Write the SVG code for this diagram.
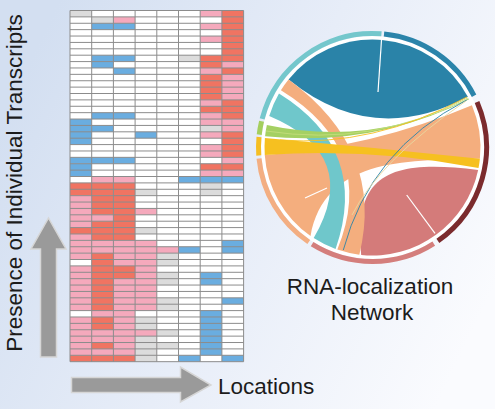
<svg xmlns="http://www.w3.org/2000/svg" width="495" height="409" viewBox="0 0 495 409">
<defs>
<linearGradient id="bg" x1="0" y1="0.3" x2="1" y2="0.7">
<stop offset="0" stop-color="#d3dff1"/>
<stop offset="0.5" stop-color="#e7edf8"/>
<stop offset="1" stop-color="#fafbfe"/>
</linearGradient>
<style>
.g{fill:#dcdcdc}.p{fill:#f5a9bc}.r{fill:#f07462}.b{fill:#6aade0}.w{fill:#ffffff}
.grid{fill:none;stroke:#8c8c8c;stroke-width:1;vector-effect:non-scaling-stroke}
.arrow{fill:#9a9a9a;stroke:#d6d6d6;stroke-width:1.5}
.lbl{font-family:"Liberation Sans",Arial,sans-serif;font-size:22.5px;fill:#1c1c1c}
.ring{fill:none;stroke-width:5}
.gap{fill:none;stroke:#ffffff;stroke-width:1.2}
.thin{fill:none;stroke-width:0.9}
</style>
</defs>
<rect width="495" height="409" fill="url(#bg)"/>

<g id="heatmap" transform="translate(70 10.5) scale(21.7 6.385)">
<rect x="0" y="0" width="8" height="55" class="w"/>
<rect class="g" x="0" y="0" width="1" height="1"/>
<rect class="g" x="1" y="1" width="1" height="1"/>
<rect class="p" x="2" y="1" width="1" height="1"/>
<rect class="b" x="1" y="2" width="2" height="1"/>
<rect class="b" x="1" y="7" width="2" height="1"/>
<rect class="b" x="1" y="8" width="1" height="1"/>
<rect class="b" x="2" y="9" width="1" height="1"/>
<rect class="b" x="1" y="16" width="2" height="1"/>
<rect class="b" x="0" y="17" width="1" height="4"/>
<rect class="b" x="1" y="18" width="1" height="1"/>
<rect class="b" x="3" y="19" width="1" height="1"/>
<rect class="b" x="0" y="23" width="3" height="1"/>
<rect class="b" x="0" y="24" width="1" height="2"/>
<rect class="p" x="1" y="26" width="2" height="1"/>
<rect class="g" x="5" y="7" width="1" height="1"/>
<rect class="b" x="5" y="26" width="3" height="1"/>
<rect class="p" x="6" y="0" width="1" height="1"/>
<rect class="p" x="6" y="2" width="1" height="1"/>
<rect class="p" x="6" y="4" width="1" height="1"/>
<rect class="r" x="6" y="7" width="1" height="2"/>
<rect class="p" x="6" y="9" width="1" height="1"/>
<rect class="r" x="6" y="10" width="1" height="4"/>
<rect class="p" x="6" y="14" width="1" height="1"/>
<rect class="r" x="6" y="15" width="1" height="1"/>
<rect class="p" x="6" y="16" width="1" height="2"/>
<rect class="g" x="6" y="18" width="1" height="1"/>
<rect class="p" x="6" y="19" width="1" height="1"/>
<rect class="p" x="6" y="21" width="1" height="2"/>
<rect class="r" x="6" y="24" width="1" height="1"/>
<rect class="p" x="6" y="25" width="1" height="1"/>
<rect class="r" x="7" y="0" width="1" height="8"/>
<rect class="p" x="7" y="8" width="1" height="1"/>
<rect class="r" x="7" y="9" width="1" height="1"/>
<rect class="p" x="7" y="10" width="1" height="4"/>
<rect class="r" x="7" y="14" width="1" height="3"/>
<rect class="p" x="7" y="17" width="1" height="2"/>
<rect class="r" x="7" y="19" width="1" height="4"/>
<rect class="p" x="7" y="23" width="1" height="1"/>
<rect class="r" x="7" y="24" width="1" height="1"/>
<rect class="p" x="7" y="25" width="1" height="1"/>
<rect class="r" x="0" y="27" width="2" height="2"/>
<rect class="r" x="2" y="27" width="1" height="9"/>
<rect class="r" x="1" y="29" width="1" height="3"/>
<rect class="p" x="0" y="29" width="1" height="5"/>
<rect class="p" x="1" y="32" width="1" height="1"/>
<rect class="r" x="1" y="33" width="1" height="3"/>
<rect class="r" x="0" y="34" width="1" height="1"/>
<rect class="p" x="0" y="35" width="1" height="1"/>
<rect class="p" x="3" y="31" width="1" height="1"/>
<rect class="g" x="3" y="28" width="1" height="1"/>
<rect class="g" x="3" y="34" width="1" height="1"/>
<rect class="g" x="6" y="27" width="1" height="2"/>
<rect class="p" x="0" y="36" width="4" height="2"/>
<rect class="p" x="4" y="37" width="1" height="1"/>
<rect class="b" x="5" y="37" width="1" height="1"/>
<rect class="b" x="7" y="36" width="1" height="2"/>
<rect class="p" x="0" y="38" width="4" height="16"/>
<rect class="w" x="0" y="39" width="1" height="1"/>
<rect class="w" x="0" y="47" width="1" height="1"/>
<rect class="r" x="1" y="38" width="1" height="9"/>
<rect class="r" x="1" y="48" width="1" height="2"/>
<rect class="r" x="1" y="52" width="1" height="1"/>
<rect class="r" x="2" y="40" width="1" height="2"/>
<rect class="w" x="3" y="47" width="1" height="1"/>
<rect class="g" x="3" y="48" width="1" height="2"/>
<rect class="g" x="3" y="51" width="1" height="3"/>
<rect class="g" x="4" y="38" width="1" height="2"/>
<rect class="g" x="4" y="41" width="1" height="2"/>
<rect class="g" x="4" y="45" width="1" height="2"/>
<rect class="g" x="4" y="50" width="1" height="1"/>
<rect class="g" x="4" y="52" width="1" height="1"/>
<rect class="b" x="6" y="41" width="1" height="2"/>
<rect class="b" x="6" y="47" width="1" height="7"/>
<rect class="b" x="7" y="45" width="1" height="1"/>
<rect class="r" x="0" y="54" width="3" height="1"/>
<rect class="g" x="3" y="54" width="1" height="1"/>
<rect class="b" x="5" y="54" width="1" height="1"/>
<rect class="b" x="7" y="54" width="1" height="1"/>
<path class="grid" d="M0 0H8M0 1H8M0 2H8M0 3H8M0 4H8M0 5H8M0 6H8M0 7H8M0 8H8M0 9H8M0 10H8M0 11H8M0 12H8M0 13H8M0 14H8M0 15H8M0 16H8M0 17H8M0 18H8M0 19H8M0 20H8M0 21H8M0 22H8M0 23H8M0 24H8M0 25H8M0 26H8M0 27H8M0 28H8M0 29H8M0 30H8M0 31H8M0 32H8M0 33H8M0 34H8M0 35H8M0 36H8M0 37H8M0 38H8M0 39H8M0 40H8M0 41H8M0 42H8M0 43H8M0 44H8M0 45H8M0 46H8M0 47H8M0 48H8M0 49H8M0 50H8M0 51H8M0 52H8M0 53H8M0 54H8M0 55H8M0 0V55M1 0V55M2 0V55M3 0V55M4 0V55M5 0V55M6 0V55M7 0V55M8 0V55"/>
</g>

<g id="arrow-up">
<polygon class="arrow" points="48.5,218 66,249 56.5,249 56.5,357 40.5,357 40.5,249 31,249"/>
</g>
<g id="arrow-right">
<polygon class="arrow" points="71.5,377.5 180.5,377.5 180.5,367 211,385 180.5,402 180.5,392.5 71.5,392.5"/>
</g>
<text id="y-label" class="lbl" text-anchor="middle" transform="translate(21.5 183) rotate(-90)">Presence of Individual Transcripts</text>
<text id="x-label" class="lbl" x="218" y="394">Locations</text>

<g id="chord">
<circle cx="372.5" cy="147.5" r="111.5" fill="#ffffff"/>
<g id="ring">
<path class="ring" stroke="#74c7cc" d="M262.14 118.95A114 114 0 0 1 381.45 33.85"/>
<path class="ring" stroke="#2b84aa" d="M384.02 34.08A114 114 0 0 1 474.07 95.74"/>
<path class="ring" stroke="#7b2b2d" d="M477.05 102.05A114 114 0 0 1 437.89 240.89"/>
<path class="ring" stroke="#d47e7c" d="M433.75 243.65A114 114 0 0 1 312.09 244.18"/>
<path class="ring" stroke="#f3ae82" d="M308.75 242.01A114 114 0 0 1 259.02 158.42"/>
<path class="ring" stroke="#f5be22" d="M258.77 155.46A114 114 0 0 1 258.99 136.97"/>
<path class="ring" stroke="#a4cf5e" d="M259.23 134.60A114 114 0 0 1 261.55 121.28"/>
</g>
<g id="ribbons">
<path fill="#2a83a8" d="M288.57 79.54A108 108 0 0 1 378.15 39.65L381.91 39.91A108 108 0 0 1 467.86 96.8Q372.5 147.5 288.57 79.54Z"/>
<path fill="#f4ae7e" d="M310.55 235.97A108 108 0 0 1 264.76 155.03Q372.5 147.5 471.92 105.3A108 108 0 0 1 479.91 158.79C400 160 325 160 310.55 235.97Z"/>
<path fill="#d47b7a" d="M478.14 169.95A108 108 0 0 1 361.21 254.91C352 170 395 160 478.14 169.95Z"/>
<path fill="#6fc7cb" d="M269.22 115.92A108 108 0 0 1 278.97 93.5Q370 150 335.56 248.99A108 108 0 0 1 313.68 238.08Q362 155 269.22 115.92Z"/>
<path fill="#f4ae7e" d="M280.91 90.27A108 108 0 0 1 288.57 79.54Q385 150 359.34 254.69A108 108 0 0 1 337.34 249.62Q378 150 280.91 90.27Z"/>
<path fill="#a5d063" d="M265.09 136.21A108 108 0 0 1 266.86 125.05Q372.5 147.5 468.73 98.47A108 108 0 0 1 469.2 99.3Q372.5 147.5 265.09 136.21Z"/>
<path fill="#f6c020" d="M264.76 155.03A108 108 0 0 1 264.91 138.09Q372.5 147.5 479.91 158.79A108 108 0 0 1 478.52 168.11Q372.5 147.5 264.76 155.03Z"/>
<path class="thin" stroke="#2a83a8" d="M466.7 100Q370 150 343.3 250"/>
<path class="thin" stroke="#c3dc7a" d="M468 98Q372.5 147.5 266 131"/>
<path class="thin" stroke="#f6c020" d="M467 97Q372.5 147.5 280 140"/>
<path class="thin" stroke="#e8d8a0" d="M466 101Q380 160 352 215"/>
<path class="gap" d="M381.5 40L378 92"/>
<path class="gap" d="M435 233.3L406.7 195"/>
<path class="gap" d="M305 198L327 188"/>
</g>
</g>
<text id="chord-title-1" class="lbl" x="370" y="294" text-anchor="middle">RNA-localization</text>
<text id="chord-title-2" class="lbl" x="372" y="320" text-anchor="middle">Network</text>
</svg>
